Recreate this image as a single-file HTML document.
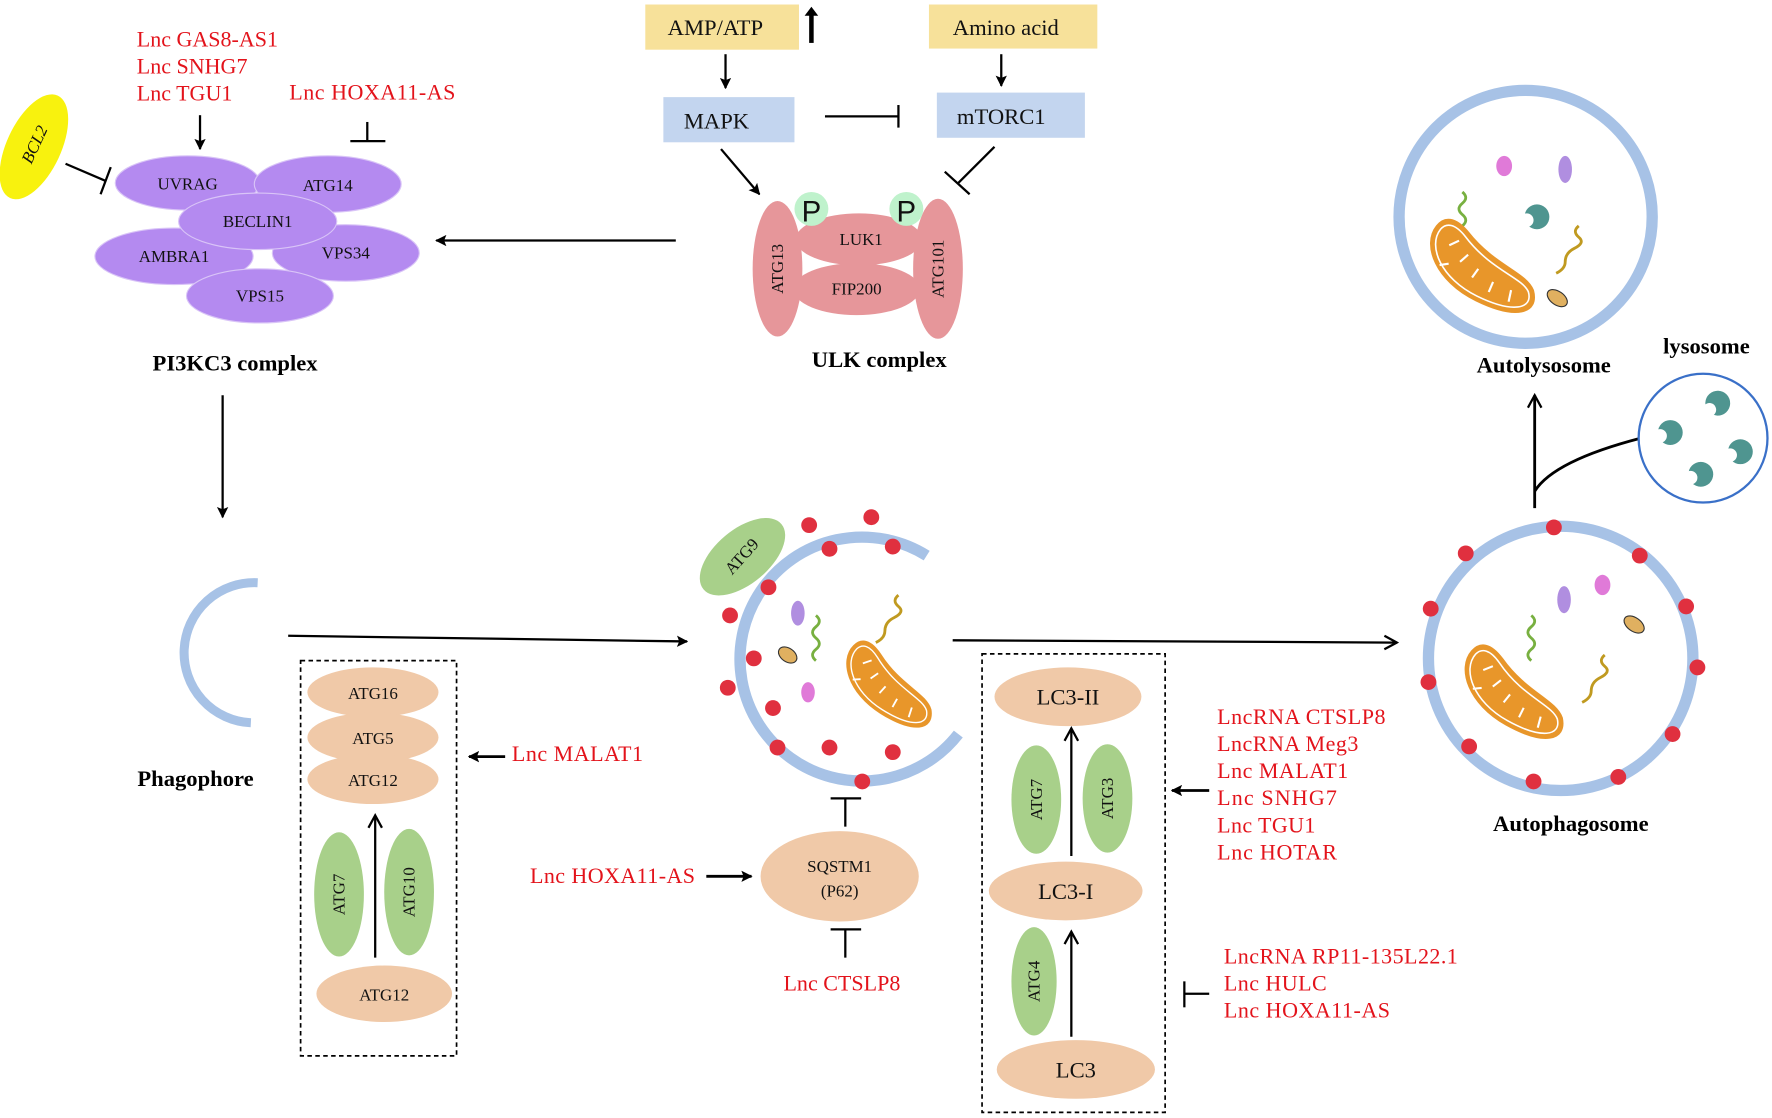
<!DOCTYPE html>
<html><head><meta charset="utf-8"><style>
html,body{margin:0;padding:0;background:#fff;}
svg{display:block;}
.r{fill:#e3131b;font-family:"Liberation Serif",serif;font-size:19.5px;}
.b{font-family:"Liberation Serif",serif;font-size:20px;font-weight:bold;fill:#000;}
.n{font-family:"Liberation Serif",serif;font-size:15px;fill:#111;}
.m{font-family:"Liberation Serif",serif;font-size:20px;fill:#111;}
</style></head><body>
<svg width="1772" height="1118" viewBox="0 0 1568 990" preserveAspectRatio="none" xmlns="http://www.w3.org/2000/svg">
<defs>
<marker id="ah" markerWidth="10" markerHeight="10" refX="9" refY="5" orient="auto" markerUnits="userSpaceOnUse"><path d="M0,0 L10,5 L0,10 L2,5z" fill="#000"/></marker>
<marker id="oa" markerWidth="14" markerHeight="14" refX="12" refY="7" orient="auto" markerUnits="userSpaceOnUse"><path d="M1,1 L12,7 L1,13" fill="none" stroke="#000" stroke-width="2"/></marker>
<g id="mito"><path d="M-50,-30 C-60,-10 -40,20 0,30 C40,40 60,30 50,10 C40,-5 10,-5 -20,-30 C-35,-42 -45,-40 -50,-30z" fill="#e8962a" stroke="#e8962a" stroke-width="2"/><path d="M-46,-28 C-55,-10 -36,17 0,26 C36,35 54,27 46,12 C37,0 8,0 -22,-26 C-34,-36 -42,-35 -46,-28z" fill="none" stroke="#fff" stroke-width="1.5"/><g stroke="#fff" stroke-width="2"><path d="M-35,-15 l8,-6"/><path d="M-22,-2 l6,-8"/><path d="M-8,10 l4,-9"/><path d="M10,20 l2,-10"/><path d="M30,25 l0,-11"/><path d="M-40,5 l8,-3"/></g></g>
<g id="cres"><circle r="11" fill="#4f9590"/><circle cx="-9" cy="3" r="6" fill="#fff"/></g>
<g id="dot"><circle r="7" fill="#e0303f"/></g>
</defs>
<rect width="1568" height="990" fill="#fff"/>

<rect x="571" y="4" width="136" height="40" fill="#f7e19a"/><text class="m" x="633" y="31" text-anchor="middle">AMP/ATP</text>
<rect x="822" y="4" width="149" height="39" fill="#f7e19a"/><text class="m" x="890" y="31" text-anchor="middle">Amino acid</text>
<line x1="718" y1="38" x2="718" y2="12" stroke="#000" stroke-width="4"/><path d="M712,14 L718,6 L724,14z" fill="#000"/>
<line x1="642" y1="48" x2="642" y2="78" stroke="#000" stroke-width="2" marker-end="url(#ah)"/>
<line x1="886" y1="48" x2="886" y2="76" stroke="#000" stroke-width="2" marker-end="url(#ah)"/>
<rect x="587" y="86" width="116" height="40" fill="#c3d5ef"/><text class="m" x="634" y="114" text-anchor="middle">MAPK</text>
<rect x="829" y="82" width="131" height="40" fill="#c3d5ef"/><text class="m" x="886" y="110" text-anchor="middle">mTORC1</text>
<line x1="730" y1="103" x2="795" y2="103" stroke="#000" stroke-width="2"/><line x1="795" y1="93" x2="795" y2="113" stroke="#000" stroke-width="2"/>
<line x1="638" y1="132" x2="672" y2="172" stroke="#000" stroke-width="2" marker-end="url(#ah)"/>
<line x1="880" y1="130" x2="848" y2="162" stroke="#000" stroke-width="2"/><line x1="836" y1="152" x2="858" y2="172" stroke="#000" stroke-width="2"/>

<ellipse cx="760" cy="212" rx="56" ry="23" fill="#e6969a"/>
<ellipse cx="758" cy="256" rx="56" ry="23" fill="#e6969a"/>
<ellipse cx="688" cy="238" rx="22" ry="60" fill="#e6969a"/>
<ellipse cx="830" cy="238" rx="22" ry="62" fill="#e6969a"/>
<text class="n" x="762" y="217" text-anchor="middle">LUK1</text>
<text class="n" x="758" y="261" text-anchor="middle">FIP200</text>
<text class="n" transform="translate(693,238) rotate(-90)" text-anchor="middle">ATG13</text>
<text class="n" transform="translate(835,238) rotate(-90)" text-anchor="middle">ATG101</text>
<circle cx="718" cy="185" r="15" fill="#bff2cc"/><text x="718" y="196" text-anchor="middle" font-family="Liberation Sans,sans-serif" font-size="26" fill="#111">P</text>
<circle cx="802" cy="185" r="15" fill="#bff2cc"/><text x="802" y="196" text-anchor="middle" font-family="Liberation Sans,sans-serif" font-size="26" fill="#111">P</text>
<text class="b" x="778" y="325" text-anchor="middle">ULK complex</text>
<line x1="598" y1="213" x2="386" y2="213" stroke="#000" stroke-width="2" marker-end="url(#ah)"/>

<g fill="#b48af0" stroke="#d9c4f7" stroke-width="1">
<ellipse cx="166" cy="162" rx="64" ry="24"/><ellipse cx="290" cy="163" rx="65" ry="25"/>
<ellipse cx="154" cy="227" rx="70" ry="25"/><ellipse cx="306" cy="224" rx="65" ry="25"/>
<ellipse cx="228" cy="196" rx="70" ry="25"/><ellipse cx="230" cy="262" rx="65" ry="24"/></g>
<text class="n" x="166" y="168" text-anchor="middle">UVRAG</text><text class="n" x="290" y="169" text-anchor="middle">ATG14</text>
<text class="n" x="228" y="201" text-anchor="middle">BECLIN1</text><text class="n" x="154" y="232" text-anchor="middle">AMBRA1</text>
<text class="n" x="306" y="229" text-anchor="middle">VPS34</text><text class="n" x="230" y="267" text-anchor="middle">VPS15</text>
<ellipse cx="30" cy="130" rx="24" ry="50" transform="rotate(25 30 130)" fill="#f8f20e"/>
<text class="n" transform="translate(35,130) rotate(-65)" text-anchor="middle" font-style="italic">BCL2</text>
<line x1="58" y1="145" x2="93" y2="160" stroke="#000" stroke-width="2"/><line x1="98" y1="148" x2="89" y2="172" stroke="#000" stroke-width="2"/>
<text class="r" x="121" y="41">Lnc GAS8-AS1</text><text class="r" x="121" y="65">Lnc  SNHG7</text><text class="r" x="121" y="89">Lnc TGU1</text>
<line x1="177" y1="102" x2="177" y2="132" stroke="#000" stroke-width="2" marker-end="url(#ah)"/>
<text class="r" x="256" y="88" textLength="147">Lnc HOXA11-AS</text>
<line x1="325" y1="108" x2="325" y2="125" stroke="#000" stroke-width="2"/><line x1="310" y1="125" x2="341" y2="125" stroke="#000" stroke-width="2"/>
<text class="b" x="208" y="328" text-anchor="middle">PI3KC3 complex</text>
<line x1="197" y1="350" x2="197" y2="458" stroke="#000" stroke-width="2" marker-end="url(#ah)"/>

<path d="M228,516 A60,60 0 1,0 222,640" fill="none" stroke="#a7c2e6" stroke-width="8"/>
<text class="b" x="173" y="696" text-anchor="middle">Phagophore</text>
<line x1="255" y1="563" x2="608" y2="568" stroke="#000" stroke-width="2" marker-end="url(#ah)"/>

<path d="M820,492 A108,108 0 1,0 848,650" fill="none" stroke="#a7c2e6" stroke-width="10"/>
<ellipse cx="657" cy="493" rx="24" ry="45" transform="rotate(50 657 493)" fill="#a8d08a"/>
<text class="n" transform="translate(660,496) rotate(-48)" text-anchor="middle" font-size="14">ATG9</text>
<use href="#dot" x="716" y="465"/><use href="#dot" x="771" y="458"/><use href="#dot" x="734" y="486"/><use href="#dot" x="790" y="484"/>
<use href="#dot" x="680" y="520"/><use href="#dot" x="646" y="545"/><use href="#dot" x="667" y="583"/><use href="#dot" x="644" y="609"/>
<use href="#dot" x="684" y="627"/><use href="#dot" x="688" y="662"/><use href="#dot" x="734" y="662"/><use href="#dot" x="790" y="666"/><use href="#dot" x="763" y="692"/>
<ellipse cx="706" cy="543" rx="6" ry="11" fill="#b08ee0"/><ellipse cx="715" cy="613" rx="6" ry="9" fill="#e07ad8"/>
<path d="M722,545 q6,5 0,10 q-6,5 0,10 q6,5 0,10 q-6,5 0,10" fill="none" stroke="#78b040" stroke-width="2.5"/>
<path d="M795,527 q-6,5 0,10 q6,5 -4,10 q-8,4 -8,12 q0,6 -8,10" fill="none" stroke="#c09a20" stroke-width="2.5"/>
<ellipse cx="697" cy="580" rx="9" ry="6" transform="rotate(35 697 580)" fill="#e0b060" stroke="#333" stroke-width="1"/>
<use href="#mito" transform="translate(787,608) rotate(18) scale(0.82)"/>
<line x1="843" y1="567" x2="1236" y2="569" stroke="#000" stroke-width="2" marker-end="url(#oa)"/>

<circle cx="1381" cy="583" r="117" fill="none" stroke="#a7c2e6" stroke-width="10"/>
<use href="#dot" x="1375" y="467"/><use href="#dot" x="1297" y="490"/><use href="#dot" x="1451" y="492"/><use href="#dot" x="1266" y="539"/>
<use href="#dot" x="1492" y="537"/><use href="#dot" x="1264" y="604"/><use href="#dot" x="1502" y="591"/><use href="#dot" x="1480" y="650"/>
<use href="#dot" x="1300" y="661"/><use href="#dot" x="1432" y="688"/><use href="#dot" x="1357" y="692"/>
<ellipse cx="1384" cy="531" rx="6" ry="12" fill="#b08ee0"/><ellipse cx="1418" cy="518" rx="7" ry="9" fill="#e07ad8"/>
<path d="M1355,545 q6,5 0,10 q-6,5 0,10 q6,5 0,10 q-6,5 0,10" fill="none" stroke="#78b040" stroke-width="2.5"/>
<path d="M1420,580 q-6,5 0,10 q6,5 -4,10 q-8,4 -8,12 q0,6 -8,10" fill="none" stroke="#c09a20" stroke-width="2.5"/>
<ellipse cx="1446" cy="553" rx="10" ry="6" transform="rotate(35 1446 553)" fill="#e0b060" stroke="#333" stroke-width="1"/>
<use href="#mito" transform="translate(1340,615) rotate(15) scale(0.92)"/>
<text class="b" x="1390" y="736" text-anchor="middle">Autophagosome</text>
<line x1="1358" y1="450" x2="1358" y2="350" stroke="#000" stroke-width="2.5" marker-end="url(#oa)"/>
<path d="M1358,435 Q1375,408 1452,388" fill="none" stroke="#000" stroke-width="2.5"/>
<circle cx="1507" cy="388" r="57" fill="#fff" stroke="#3a70c8" stroke-width="2"/>
<use href="#cres" transform="translate(1520,357) rotate(-20)"/><use href="#cres" transform="translate(1478,383)"/>
<use href="#cres" transform="translate(1540,400)"/><use href="#cres" transform="translate(1505,420)"/>
<text class="b" x="1510" y="313" text-anchor="middle">lysosome</text>
<circle cx="1350" cy="192" r="112" fill="none" stroke="#a7c2e6" stroke-width="10"/>
<ellipse cx="1331" cy="147" rx="7" ry="9" fill="#e07ad8"/><ellipse cx="1385" cy="150" rx="6" ry="12" fill="#b08ee0"/>
<path d="M1294,170 q6,5 0,10 q-6,5 0,10 q6,5 0,10 q-6,5 0,10 q6,5 0,10" fill="none" stroke="#78b040" stroke-width="2.5"/>
<path d="M1397,200 q-6,5 0,10 q6,5 -4,10 q-8,4 -8,12 q0,6 -8,10" fill="none" stroke="#c09a20" stroke-width="2.5"/>
<use href="#cres" transform="translate(1360,192)"/>
<ellipse cx="1378" cy="264" rx="10" ry="6" transform="rotate(35 1378 264)" fill="#e0b060" stroke="#333" stroke-width="1"/>
<use href="#mito" transform="translate(1312,238) rotate(12) scale(0.95)"/>
<text class="b" x="1366" y="330" text-anchor="middle">Autolysosome</text>

<rect x="266" y="585" width="138" height="350" fill="none" stroke="#000" stroke-width="1.5" stroke-dasharray="4,3"/>
<g fill="#f0c9a8"><ellipse cx="330" cy="613" rx="58" ry="22"/><ellipse cx="330" cy="653" rx="58" ry="22"/><ellipse cx="330" cy="690" rx="58" ry="22"/><ellipse cx="340" cy="880" rx="60" ry="25"/></g>
<text class="n" x="330" y="619" text-anchor="middle">ATG16</text><text class="n" x="330" y="659" text-anchor="middle">ATG5</text>
<text class="n" x="330" y="696" text-anchor="middle">ATG12</text><text class="n" x="340" y="886" text-anchor="middle">ATG12</text>
<ellipse cx="300" cy="792" rx="22" ry="55" fill="#a8d08a"/><ellipse cx="362" cy="790" rx="22" ry="56" fill="#a8d08a"/>
<text class="n" transform="translate(305,792) rotate(-90)" text-anchor="middle">ATG7</text>
<text class="n" transform="translate(367,790) rotate(-90)" text-anchor="middle">ATG10</text>
<line x1="332" y1="848" x2="332" y2="722" stroke="#000" stroke-width="2" marker-end="url(#oa)"/>
<line x1="447" y1="670" x2="415" y2="670" stroke="#000" stroke-width="2.5" marker-end="url(#ah)"/>
<text class="r" x="453" y="674" textLength="116">Lnc MALAT1</text>

<text class="r" x="469" y="782" textLength="146">Lnc HOXA11-AS</text>
<line x1="625" y1="776" x2="665" y2="776" stroke="#000" stroke-width="2.5" marker-end="url(#ah)"/>
<ellipse cx="743" cy="776" rx="70" ry="40" fill="#f0c9a8"/>
<text class="n" x="743" y="772" text-anchor="middle">SQSTM1</text><text class="n" x="743" y="794" text-anchor="middle">(P62)</text>
<line x1="735" y1="707" x2="762" y2="707" stroke="#000" stroke-width="2"/><line x1="748" y1="707" x2="748" y2="732" stroke="#000" stroke-width="2"/>
<line x1="735" y1="823" x2="762" y2="823" stroke="#000" stroke-width="2"/><line x1="748" y1="823" x2="748" y2="848" stroke="#000" stroke-width="2"/>
<text class="r" x="745" y="877" text-anchor="middle">Lnc CTSLP8</text>

<rect x="869" y="579" width="162" height="406" fill="none" stroke="#000" stroke-width="1.5" stroke-dasharray="4,3"/>
<g fill="#f0c9a8"><ellipse cx="945" cy="617" rx="65" ry="26"/><ellipse cx="943" cy="789" rx="68" ry="26"/><ellipse cx="952" cy="947" rx="70" ry="26"/></g>
<text class="m" x="945" y="624" text-anchor="middle" font-size="18">LC3-II</text>
<text class="m" x="943" y="796" text-anchor="middle" font-size="18">LC3-I</text>
<text class="m" x="952" y="954" text-anchor="middle" font-size="18">LC3</text>
<ellipse cx="917" cy="708" rx="22" ry="48" fill="#a8d08a"/><ellipse cx="980" cy="707" rx="22" ry="48" fill="#a8d08a"/>
<ellipse cx="915" cy="869" rx="20" ry="48" fill="#a8d08a"/>
<text class="n" transform="translate(922,708) rotate(-90)" text-anchor="middle">ATG7</text>
<text class="n" transform="translate(985,707) rotate(-90)" text-anchor="middle">ATG3</text>
<text class="n" transform="translate(920,869) rotate(-90)" text-anchor="middle">ATG4</text>
<line x1="948" y1="758" x2="948" y2="645" stroke="#000" stroke-width="2" marker-end="url(#oa)"/>
<line x1="948" y1="918" x2="948" y2="825" stroke="#000" stroke-width="2" marker-end="url(#oa)"/>
<line x1="1070" y1="700" x2="1037" y2="700" stroke="#000" stroke-width="2.5" marker-end="url(#ah)"/>
<text class="r" x="1077" y="641" textLength="149">LncRNA CTSLP8</text><text class="r" x="1077" y="665" textLength="125">LncRNA Meg3</text>
<text class="r" x="1077" y="689" textLength="116">Lnc MALAT1</text><text class="r" x="1077" y="713" textLength="106">Lnc  SNHG7</text>
<text class="r" x="1077" y="737" textLength="87">Lnc TGU1</text><text class="r" x="1077" y="761" textLength="106">Lnc HOTAR</text>
<line x1="1048" y1="869" x2="1048" y2="892" stroke="#000" stroke-width="2"/><line x1="1048" y1="880" x2="1070" y2="880" stroke="#000" stroke-width="2"/>
<text class="r" x="1083" y="853" textLength="207">LncRNA RP11-135L22.1</text><text class="r" x="1083" y="877" textLength="91">Lnc HULC</text><text class="r" x="1083" y="901" textLength="147">Lnc HOXA11-AS</text>
</svg>
</body></html>
